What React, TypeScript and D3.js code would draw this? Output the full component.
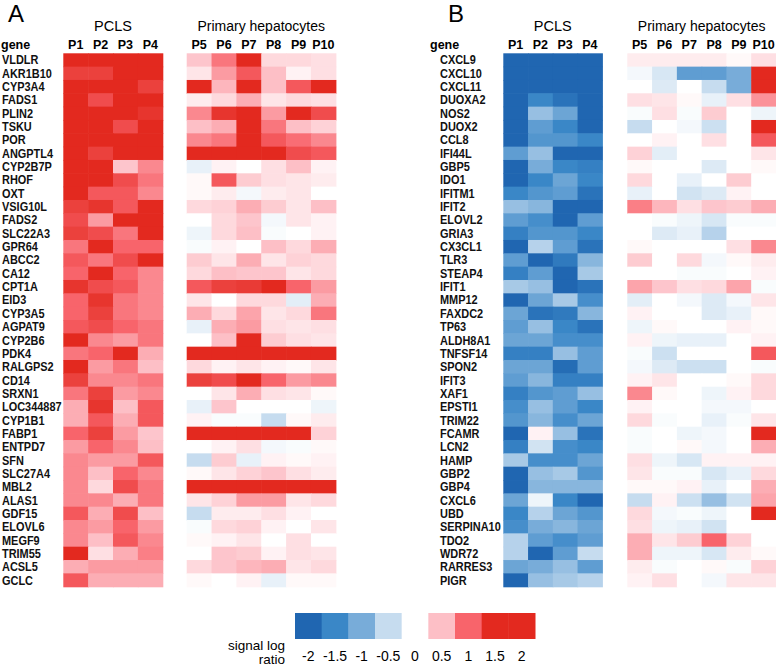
import React from "react";
import * as d3 from "d3";

const pclsCols = ["P1", "P2", "P3", "P4"];
const primCols = ["P5", "P6", "P7", "P8", "P9", "P10"];

const genesA = ["VLDLR","AKR1B10","CYP3A4","FADS1","PLIN2","TSKU","POR","ANGPTL4","CYP2B7P","RHOF","OXT","VSIG10L","FADS2","SLC22A3","GPR64","ABCC2","CA12","CPT1A","EID3","CYP3A5","AGPAT9","CYP2B6","PDK4","RALGPS2","CD14","SRXN1","LOC344887","CYP1B1","FABP1","ENTPD7","SFN","SLC27A4","MBL2","ALAS1","GDF15","ELOVL6","MEGF9","TRIM55","ACSL5","GCLC"];

const pclsA = [
  [2,2,2,2],[1.3,1.3,2,2],[2,2,1.6,1.3],[2,1.2,1.9,1.7],[2,1.6,1.7,1.4],
  [2,2,1.2,1.5],[2,1.8,1.6,1.5],[2,1.3,2,1.8],[2,2,0.45,0.8],[2,1.7,1.2,0.9],
  [2,1.1,1.1,0.8],[1.3,1.4,1.1,2],[1.2,0.7,1.6,2],[1.3,1.2,0.9,1.7],[0.9,1.8,1.0,1.0],
  [1.1,0.9,1.2,1.6],[1.0,1.9,1.0,0.8],[1.4,1.2,1.1,0.8],[1.0,1.4,0.9,0.8],[1.0,1.3,0.9,0.8],
  [1.1,1.2,1.0,0.9],[1.8,0.8,0.7,0.9],[0.9,1.0,1.8,0.6],[1.8,0.7,0.9,0.5],[1.3,0.8,0.8,0.9],
  [0.9,1.3,0.7,0.8],[0.6,1.4,0.5,1.1],[0.6,1.1,0.6,1.1],[1.0,1.3,0.7,0.45],[0.7,1.0,0.8,0.5],
  [0.8,0.7,0.7,1.1],[0.8,0.5,1.0,0.8],[0.8,0.3,1.2,0.9],[0.8,0.8,0.6,0.9],[1.1,0.6,1.2,0.5],
  [0.8,0.7,1.0,0.7],[0.8,0.5,1.1,0.8],[1.6,0.25,0.6,0.85],[0.6,0.7,0.7,0.7],[1.1,0.6,0.6,0.6]
];

const primA = [
  [0.45,0.9,1.9,0.3,0.3,0.25],[0.2,0.7,1.1,0.5,0.1,0.25],[2,0.55,2,0.5,1.1,1.9],[0.15,0.3,0.6,0.2,0.3,0.25],[0.8,1.4,1.9,0.7,1.9,1.2],
  [0.5,0.6,1.7,0.9,0.5,0.35],[0.8,0.9,1.6,1.1,0.95,0.8],[2,2,2,2,1.2,1.1],[-0.2,0.1,0,0.25,0.5,0.1],[0.05,1.1,0.4,0.25,0.2,0.15],
  [0.05,0.15,-0.1,0.15,0.2,0],[0.3,0.35,0.6,0.4,0.2,0.5],[0,0.3,0.45,-0.1,0.2,0.1],[-0.15,0.3,0.5,-0.05,0,0.1],[-0.05,0.1,0,0.5,0.3,0.6],
  [0.4,0.2,0.6,0.2,0.35,0.3],[0.3,0.5,0.45,0.45,0.2,0.3],[1.1,1.3,1.35,1.7,1.0,0.7],[0.2,0,0.3,0.3,-0.25,0.6],[0.6,0.3,0.65,0.2,0.3,0.9],
  [-0.2,0.6,0.7,0.25,0.2,0.25],[0,0.5,1.9,0.4,0.25,0.2],[2,2,2,2,2,2],[0.3,0.1,0.2,0.1,0.05,0.2],[1.3,1.2,1.9,1.0,0.7,0.8],
  [0,0.2,0.6,0.25,0.2,0.05],[-0.2,0.45,0,0,0,-0.15],[0.1,-0.05,-0.05,-0.5,0.05,0.15],[2,1.8,1.8,1.6,1.9,0.35],[0,0.1,0.25,-0.1,-0.05,0.05],
  [-0.5,0.4,-0.2,0.1,0.05,0.1],[0.05,0.2,0.35,0.45,0.25,0.15],[2,2,2,2,2,1.9],[0.2,0.35,0.7,0.7,0.2,0.3],[-0.5,0.15,0.15,0.25,0.1,0],
  [-0.05,0.3,0.35,0.1,0,0.2],[0.05,0.1,0.2,0,0.25,0],[0,0.45,0.4,0.1,0.25,0.2],[0.3,0.45,0.55,0.6,0.2,0.3],[0.05,0,0.1,-0.2,0.05,0.05]
];

const genesB = ["CXCL9","CXCL10","CXCL11","DUOXA2","NOS2","DUOX2","CCL8","IFI44L","GBP5","IDO1","IFITM1","IFIT2","ELOVL2","GRIA3","CX3CL1","TLR3","STEAP4","IFIT1","MMP12","FAXDC2","TP63","ALDH8A1","TNFSF14","SPON2","IFIT3","XAF1","EPSTI1","TRIM22","FCAMR","LCN2","HAMP","GBP2","GBP4","CXCL6","UBD","SERPINA10","TDO2","WDR72","RARRES3","PIGR"];

const pclsB = [
  [-2,-2,-2,-2],[-2,-2,-2,-2],[-2,-2,-2,-2],[-2,-1.5,-1.8,-2],[-2,-0.8,-1.1,-2],
  [-2,-1.2,-1.5,-2],[-2,-1.3,-1.3,-1.5],[-1.2,-0.8,-2,-2],[-2,-1.0,-1.5,-1.6],[-2,-1.5,-1.1,-1.5],
  [-1.5,-1.3,-1.2,-1.8],[-0.8,-0.9,-2,-2],[-1.2,-1.4,-2,-1.2],[-1.6,-1.3,-1.3,-1.5],[-2,-0.6,-1.2,-1.8],
  [-1.2,-2,-1.7,-0.9],[-1.6,-1.2,-2,-0.7],[-0.7,-0.8,-2,-1.8],[-2,-1.1,-0.7,-1.4],[-1.1,-1.8,-1.7,-0.9],
  [-1.2,-0.8,-1.5,-1.8],[-1.1,-1.1,-1.4,-1.4],[-1.6,-1.6,-0.8,-1.2],[-1.1,-1.1,-1.9,-1.2],[-1.2,-0.9,-1.6,-1.6],
  [-1.6,-1.3,-1.2,-0.8],[-1.4,-0.8,-1.2,-1.5],[-1.3,-0.9,-1.4,-1.1],[-2,0.1,-0.8,-1.8],[-1.6,-0.4,-1.4,-1.5],
  [-0.7,-1.4,-1.4,-1.1],[-2,-0.8,-0.7,-1.3],[-2,-0.9,-0.9,-0.9],[-1.1,-0.15,-1.5,-2],[-1.5,-0.6,-1.1,-1.3],
  [-1.4,-1.0,-0.9,-1.1],[-0.6,-1.2,-1.4,-1.2],[-0.6,-2,-1.2,-0.5],[-1.1,-1.0,-0.8,-1.2],[-2,-0.8,-0.7,-0.6]
];

const primB = [
  [0.15,0.15,0.15,0.15,0.05,0.25],[-0.1,-0.35,-1.2,-1.2,-1.0,2],[0,-0.3,0,-0.5,-1.0,2],[0.25,0.2,0.05,-0.2,0.25,0.75],[-0.05,0.25,-0.05,0.4,0,-0.15],
  [-0.5,0,-0.1,-0.45,0,2],[0,0.1,0,0.25,0,1.1],[0.35,-0.25,0,0,0,0.2],[0.05,0,0,-0.3,0,0.05],[0.3,0,-0.2,0,0.4,0],
  [-0.2,0,-0.4,-0.3,0.1,0],[0.85,0.55,0.25,0.45,0.4,0.6],[0,-0.05,-0.15,-0.35,-0.05,-0.05],[0,-0.3,-0.2,-0.6,0,0],[0.05,0,0,0,0.25,0.8],
  [0.4,0,0.3,-0.1,0.05,0.15],[0,0,-0.05,-0.05,0,0.1],[0.65,0.45,0.25,0.3,0.65,-0.05],[-0.25,0,-0.1,-0.3,-0.1,0.2],[0.1,0,0,-0.3,-0.2,0.05],
  [-0.15,0.05,0,0,0.1,0.05],[0.1,-0.15,-0.2,-0.2,0,0.1],[-0.05,-0.45,0,0,0,1.1],[-0.1,-0.3,-0.45,-0.45,0,-0.05],[0.1,0.2,0,0,0.05,0.3],
  [0.8,0.05,0,-0.15,0.1,0.3],[0.1,0,0,-0.1,-0.1,0],[0.3,-0.05,0,-0.2,-0.05,0.2],[-0.05,0,-0.15,-0.1,0,1.9],[-0.05,0,0.05,-0.1,0,0.6],
  [0.25,-0.15,-0.35,0.1,0.1,0.1],[0.2,-0.05,-0.05,-0.35,-0.2,0.3],[0.05,0.05,0.1,-0.2,0,0.6],[-0.5,0.1,-0.45,-0.8,-0.4,0.65],[0.3,-0.1,-0.05,-0.15,0,2],
  [0.25,-0.15,-0.2,-0.4,0,0],[0.6,0.2,0.4,1.0,0.35,0],[0.6,-0.15,-0.15,-0.35,0.15,0.05],[0.15,-0.05,0,0.05,-0.05,0.35],[0.1,0.25,0,-0.1,0.2,0.2]
];

const legendTicks = [-2, -1.5, -1, -0.5, 0, 0.5, 1, 1.5, 2];
const legendColors = ["#2066b1","#3a87c7","#78acd9","#c6dcef","#ffffff","#fdbfc6","#f8646b","#e3291f","#e3291f"];

const FONT = "'Liberation Sans', Arial, Helvetica, sans-serif";
const LABEL_SIZE = 12.5;
const SQUEEZE = 0.875;

const color = d3.scaleLinear<string>()
  .domain(legendTicks)
  .range(legendColors)
  .interpolate(d3.interpolateRgb)
  .clamp(true);

let measureCtx: CanvasRenderingContext2D | null = null;
function labelWidth(s: string): number {
  if (!measureCtx && typeof document !== "undefined") {
    measureCtx = document.createElement("canvas").getContext("2d");
  }
  if (!measureCtx) return s.length * 7.5;
  measureCtx.font = `bold ${LABEL_SIZE}px 'Liberation Sans', Arial, sans-serif`;
  return measureCtx.measureText(s).width;
}

type PanelProps = {
  letter: string; genes: string[]; pcls: number[][]; prim: number[][];
  pclsRange: [number, number]; primRange: [number, number];
  labelX: number; geneHeaderX: number; letterX: number;
};

function Panel(p: PanelProps) {
  const y = d3.scaleBand<string>().domain(p.genes).range([53.3, 586.7]);
  const xP = d3.scaleBand<string>().domain(pclsCols).range(p.pclsRange);
  const xH = d3.scaleBand<string>().domain(primCols).range(p.primRange);
  const bw = y.bandwidth();
  return (
    <g>
      <text x={p.letterX} y={22} fontSize={24} fontFamily={FONT}>{p.letter}</text>
      <text x={(p.pclsRange[0] + p.pclsRange[1]) / 2} y={31} fontSize={14.5} textAnchor="middle" fontFamily={FONT}>PCLS</text>
      <text x={(p.primRange[0] + p.primRange[1]) / 2} y={31} fontSize={14} textAnchor="middle" fontFamily={FONT}>Primary hepatocytes</text>
      <text x={p.geneHeaderX} y={49} fontSize={12.5} fontWeight="bold" fontFamily={FONT}>gene</text>
      {pclsCols.map(c => (
        <text key={c} x={xP(c)! + xP.bandwidth() / 2} y={49} fontSize={12.5} fontWeight="bold" textAnchor="middle" fontFamily={FONT}>{c}</text>
      ))}
      {primCols.map(c => (
        <text key={c} x={xH(c)! + xH.bandwidth() / 2} y={49} fontSize={12.5} fontWeight="bold" textAnchor="middle" fontFamily={FONT}>{c}</text>
      ))}
      {p.genes.map((g, i) => (
        <g key={g}>
          <text x={p.labelX} y={y(g)! + bw / 2 + 4.5} fontSize={LABEL_SIZE} fontWeight="bold" fontFamily={FONT} fill="#111"
            textLength={labelWidth(g) * SQUEEZE} lengthAdjust="spacingAndGlyphs">{g}</text>
          {p.pcls[i].map((v, j) => (
            <rect key={"p" + j} x={xP(pclsCols[j])!} y={y(g)!} width={xP.bandwidth() + 0.6} height={bw + 0.6} fill={color(v)} />
          ))}
          {p.prim[i].map((v, j) => (
            <rect key={"h" + j} x={xH(primCols[j])!} y={y(g)!} width={xH.bandwidth() + 0.6} height={bw + 0.6} fill={color(v)} />
          ))}
        </g>
      ))}
    </g>
  );
}

export default function App() {
  const lx = d3.scaleBand<string>().domain(legendTicks.map(String)).range([295, 535]);
  return (
    <svg width={776} height={665} style={{ position: "absolute", left: 0, top: 0, background: "#fff" }}>
      <rect width={776} height={665} fill="#fff" />
      <Panel letter="A" genes={genesA} pcls={pclsA} prim={primA}
        pclsRange={[63.3, 162.7]} primRange={[186.7, 335.8]} labelX={2} geneHeaderX={1} letterX={8} />
      <Panel letter="B" genes={genesB} pcls={pclsB} prim={primB}
        pclsRange={[503.3, 602.3]} primRange={[627.3, 776]} labelX={440} geneHeaderX={430} letterX={448} />
      <g>
        {legendTicks.map((t, i) => (
          <g key={t}>
            <rect x={lx(String(t))!} y={613} width={lx.bandwidth() + 0.5} height={26} fill={legendColors[i]} />
            <text x={lx(String(t))! + lx.bandwidth() / 2} y={661} fontSize={14} textAnchor="middle" fontFamily={FONT}>{t}</text>
          </g>
        ))}
        <text x={285} y={650} fontSize={13.5} textAnchor="end" fontFamily={FONT}>signal log</text>
        <text x={285} y={663.5} fontSize={13.5} textAnchor="end" fontFamily={FONT}>ratio</text>
      </g>
    </svg>
  );
}
